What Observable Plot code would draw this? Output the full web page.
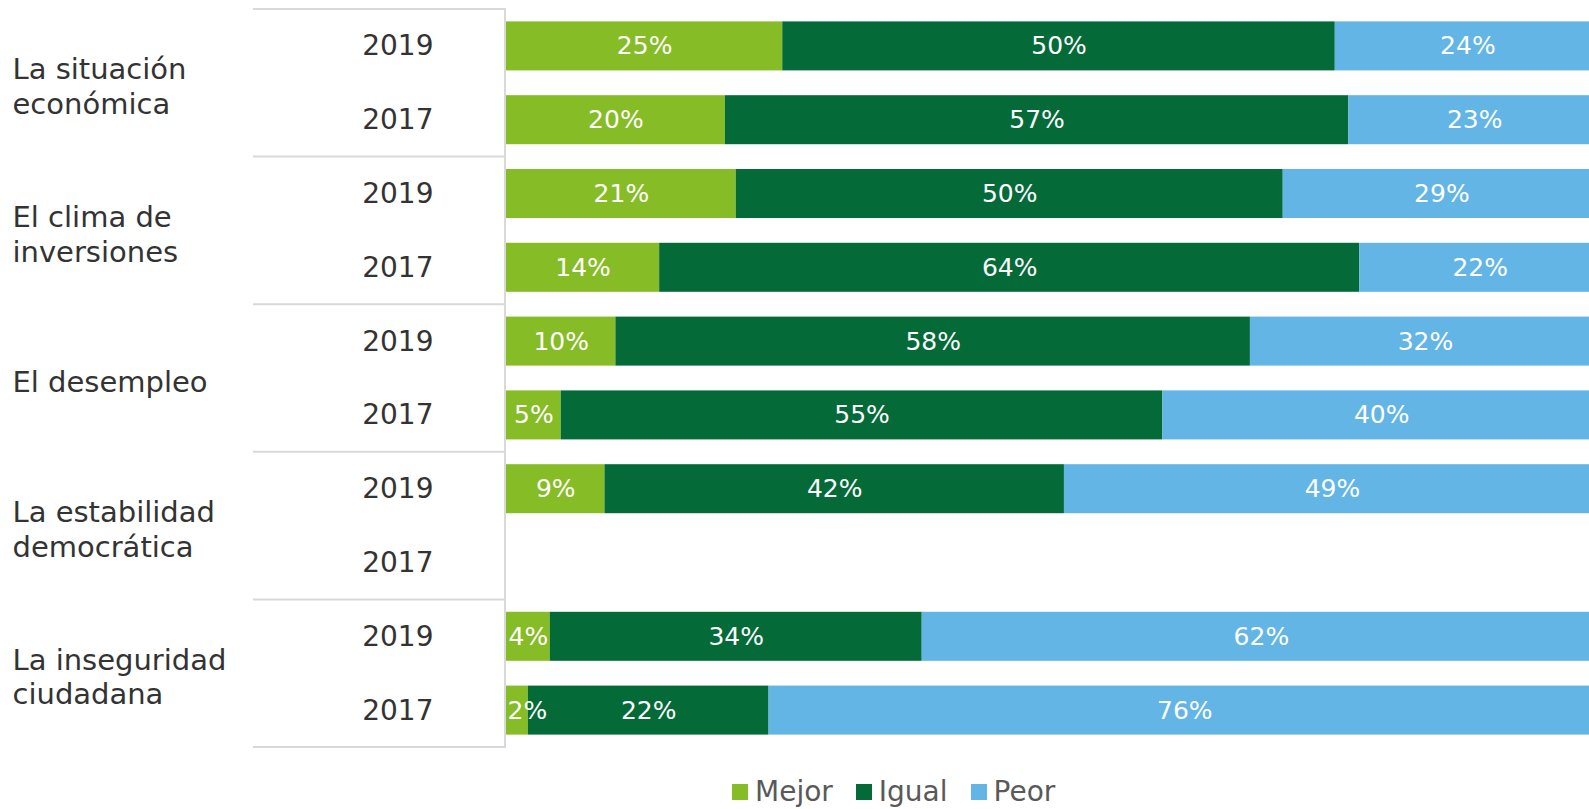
<!DOCTYPE html>
<html>
<head>
<meta charset="utf-8">
<script src="https://cdn.jsdelivr.net/npm/d3@7"></script>
<script src="https://cdn.jsdelivr.net/npm/@observablehq/plot@0.6"></script>
<style>
  html, body { margin: 0; padding: 0; background: #fff; width: 1589px; height: 809px; overflow: hidden; font-family: "DejaVu Sans", Verdana, sans-serif; }
  #chart { position: absolute; left: 0; top: 0; }
  #legend { position: absolute; left: 732px; top: 775px; display: flex; align-items: center; font-size: 28px; color: #595959; white-space: nowrap; }
  .item { display: flex; align-items: center; margin-right: 23px; }
  .sw { width: 16px; height: 16px; margin-right: 7px; }
</style>
</head>
<body>
<div id="chart"></div>
<div id="legend"></div>
<script>
const topics = ["La situación\neconómica", "El clima de\ninversiones", "El desempleo", "La estabilidad\ndemocrática", "La inseguridad\nciudadana"];
const years = ["2019", "2017"];
const answers = ["Mejor", "Igual", "Peor"];
const colors = ["#86BC25", "#046A38", "#62B5E5"];
// rows in order: topic0-2019, topic0-2017, topic1-2019, ...
const mejor = [25, 20, 21, 14, 10, 5, 9, null, 4, 2];
const igual = [50, 57, 50, 64, 58, 55, 42, null, 34, 22];
const peor  = [24, 23, 29, 22, 32, 40, 49, null, 62, 76];

const rows = topics.flatMap((t, i) => years.map(y => `${i}|${y}`));
const series = [mejor, igual, peor];
const data = [];
rows.forEach((r, k) => {
  series.forEach((s, j) => {
    if (s[k] != null) data.push({row: r, answer: answers[j], value: s[k]});
  });
});

const plot = Plot.plot({
  width: 1589,
  height: 760,
  marginLeft: 506,
  marginRight: 0,
  marginTop: 9,
  marginBottom: 13,
  style: {fontFamily: "DejaVu Sans, Verdana, sans-serif", background: "white"},
  // the original chart is cropped at the right edge: 100% lies just past the picture
  x: {domain: [0, 1], range: [506, 1600], axis: null},
  y: {domain: rows, axis: null, paddingInner: 0.336, paddingOuter: 0.168, round: false},
  color: {domain: answers, range: colors},
  marks: [
    Plot.barX(data, Plot.stackX({x: "value", y: "row", fill: "answer", offset: "normalize"})),
    Plot.text(data, Plot.stackX({x: "value", y: "row", z: "answer", offset: "normalize",
      text: d => d.value >= 3 ? d.value + "%" : null, fill: "white", fontSize: 25})),
    Plot.text(data, Plot.stackX1({x: "value", y: "row", z: "answer", offset: "normalize",
      text: d => d.value < 3 ? d.value + "%" : null, fill: "white", fontSize: 25, textAnchor: "start", dx: 1})),
    Plot.text(rows, {y: d => d, text: d => d.split("|")[1], frameAnchor: "left", dx: -73,
      textAnchor: "end", fontSize: 28, fill: "#333333"}),
    Plot.text(topics, {y: (d, i) => `${i}|2019`, text: d => d, frameAnchor: "left", dx: -494, dy: 39,
      textAnchor: "start", lineHeight: 1.2, fontSize: 29, fill: "#333333"})
  ]
});
document.getElementById("chart").appendChild(plot);

// table frame lines (left category area)
const ys = plot.scale("y");
const bw = ys.bandwidth, step = ys.step, gap = (step - bw) / 2;
const bounds = [];
for (let g = 0; g < topics.length; g++) bounds.push(ys.apply(rows[g * 2]) - gap);
bounds.push(ys.apply(rows[rows.length - 1]) + bw + gap);
const svg = d3.select(plot);
const gLines = svg.insert("g", ":first-child").attr("stroke", "#d9d9d9").attr("stroke-width", 2);
bounds.forEach(b => gLines.append("line").attr("x1", 253).attr("x2", 506).attr("y1", b).attr("y2", b));
gLines.append("line").attr("x1", 505).attr("x2", 505).attr("y1", bounds[0]).attr("y2", bounds[bounds.length - 1]);

// legend
const leg = document.getElementById("legend");
answers.forEach((a, i) => {
  const it = document.createElement("div");
  it.className = "item";
  it.innerHTML = `<div class="sw" style="background:${colors[i]}"></div><span>${a}</span>`;
  leg.appendChild(it);
});
</script>
</body>
</html>
